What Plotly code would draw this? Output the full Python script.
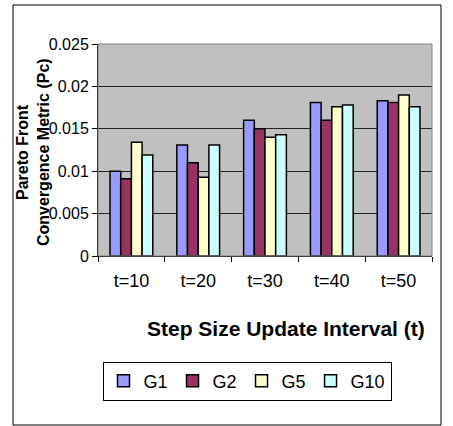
import plotly.graph_objects as go

categories = ["t=10", "t=20", "t=30", "t=40", "t=50"]
series_names = ["G1", "G2", "G5", "G10"]
g1 = [0.0100, 0.0131, 0.0160, 0.0181, 0.0183]
g2 = [0.0091, 0.0110, 0.0150, 0.0160, 0.0181]
g5 = [0.0134, 0.0093, 0.0140, 0.0176, 0.0190]
g10 = [0.0119, 0.0131, 0.0143, 0.0178, 0.0176]
colors = ["#9999FF", "#993366", "#FFFFCC", "#CCFFFF"]
y_ticks = [0, 0.005, 0.01, 0.015, 0.02, 0.025]
y_tick_labels = ["0", "0.005", "0.01", "0.015", "0.02", "0.025"]

W, H = 453, 426
L, R, T, B = 98, 21, 44, 170
pw, ph = W - L - R, H - T - B

def px(x):
    return (x - L) / pw

def py(y):
    return (H - B - y) / ph

font = "Liberation Sans, Arial, sans-serif"

fig = go.Figure()
for name, vals, c in zip(series_names, [g1, g2, g5, g10], colors):
    fig.add_bar(x=categories, y=vals, name=name,
                marker=dict(color=c, line=dict(color="black", width=1.5)))

frame = dict(color="black", width=1)
fig.update_layout(
    width=W, height=H,
    margin=dict(l=L, r=R, t=T, b=B, pad=0),
    paper_bgcolor="white", plot_bgcolor="#C0C0C0",
    barmode="group", bargap=0.36, bargroupgap=0,
    font=dict(family=font, size=17, color="black"),
    showlegend=True,
    legend=dict(orientation="h", x=px(247), xanchor="center", y=py(381), yanchor="middle",
                bordercolor="black", borderwidth=1, bgcolor="white",
                font=dict(size=18), traceorder="normal", itemwidth=30),
    xaxis=dict(showline=True, linecolor="black", linewidth=1, ticks="outside",
               tickson="boundaries", ticklen=5, tickcolor="black",
               ticklabelstandoff=8, tickfont=dict(size=18), showgrid=False),
    yaxis=dict(range=[0, 0.025], tickvals=y_ticks, ticktext=y_tick_labels,
               showline=True, linecolor="black", linewidth=1, ticks="outside",
               ticklen=5, tickcolor="black", showgrid=True, gridcolor="#222222",
               gridwidth=1, zeroline=False, tickfont=dict(size=16)),
    shapes=[
        dict(type="line", xref="paper", yref="paper", x0=px(13), x1=px(441), y0=py(5), y1=py(5), line=frame),
        dict(type="line", xref="paper", yref="paper", x0=px(13), x1=px(441), y0=py(425), y1=py(425), line=frame),
        dict(type="line", xref="paper", yref="paper", x0=px(13), x1=px(13), y0=py(5), y1=py(425), line=frame),
        dict(type="line", xref="paper", yref="paper", x0=px(441), x1=px(441), y0=py(5), y1=py(425), line=frame),
        dict(type="rect", xref="paper", yref="paper", x0=0, x1=1, y0=0, y1=1,
             line=dict(color="#808080", width=1), layer="above"),
    ],
    annotations=[
        dict(text="<b>Step Size Update Interval (t)</b>", xref="paper", yref="paper",
             x=px(286), y=py(328), showarrow=False, font=dict(size=21),
             xanchor="center", yanchor="middle"),
        dict(text="<b>Pareto Front</b>", xref="paper", yref="paper",
             x=px(22), y=py(152), showarrow=False, font=dict(size=16), textangle=-90,
             xanchor="center", yanchor="middle"),
        dict(text="<b>Convergence Metric (Pc)</b>", xref="paper", yref="paper",
             x=px(43), y=py(152), showarrow=False, font=dict(size=16), textangle=-90,
             xanchor="center", yanchor="middle"),
    ],
)

fig.write_html("out.html", config={"displayModeBar": False},
               post_script="document.body.style.margin='0';document.body.style.overflow='hidden';")
